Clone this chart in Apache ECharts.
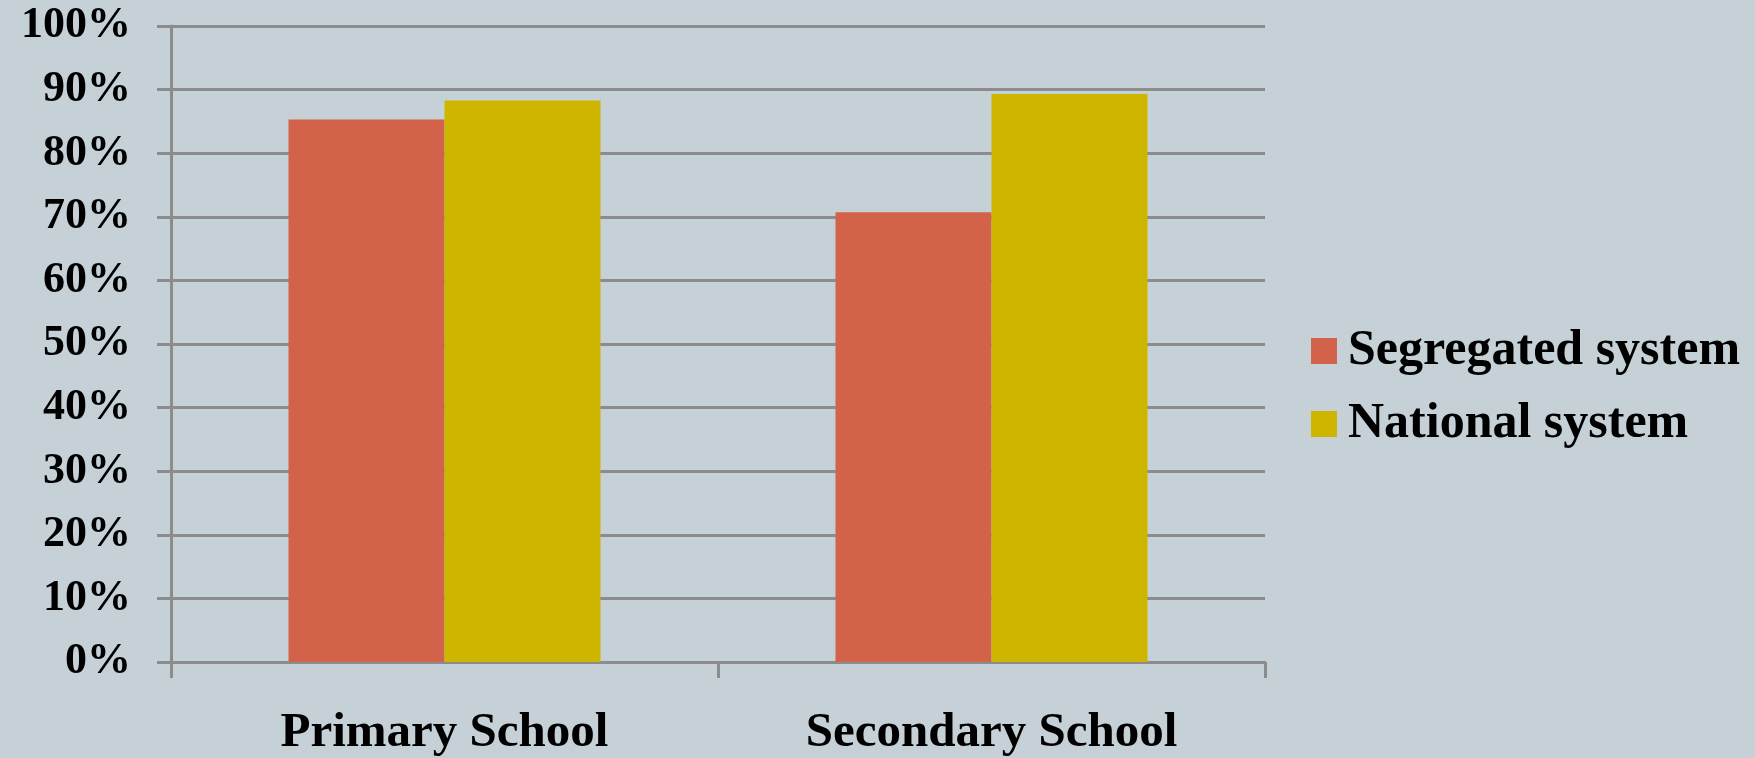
<!DOCTYPE html>
<html>
<head>
<meta charset="utf-8">
<script src="https://cdn.jsdelivr.net/npm/echarts@6/dist/echarts.min.js"></script>
<style>
html,body{margin:0;padding:0;background:#C5D1D7;}
#chart{width:1755px;height:758px;}
</style>
</head>
<body>
<div id="chart"></div>
<script>
const categories = ['Primary School', 'Secondary School'];
const seriesNames = ['Segregated system', 'National system'];
const segregatedValues = [85.3, 70.7];
const nationalValues = [88.3, 89.3];
const yTickMin = 0, yTickMax = 100, yTickStep = 10;

const gridColor = '#8C8C8C';
const font = '"Liberation Serif", "DejaVu Serif", serif';

const chart = echarts.init(document.getElementById('chart'));
chart.setOption({
  backgroundColor: '#C5D1D7',
  animation: false,
  grid: { left: 171, right: 490, top: 26, bottom: 94, containLabel: false },
  legend: {
    orient: 'vertical',
    left: 1311,
    top: 326,
    padding: 0,
    itemWidth: 26,
    itemHeight: 26,
    itemGap: 23,
    icon: 'rect',
    textStyle: { fontFamily: font, fontWeight: 'bold', fontSize: 50, color: '#000', lineHeight: 50, padding: [0,0,0,6] },
    data: seriesNames
  },
  xAxis: {
    type: 'category',
    data: categories,
    axisLine: { show: true, lineStyle: { color: gridColor, width: 3 } },
    axisTick: { show: true, length: 16, lineStyle: { color: gridColor, width: 3 } },
    axisLabel: { fontFamily: font, fontWeight: 'bold', fontSize: 49, color: '#000', margin: 47 }
  },
  yAxis: {
    type: 'value',
    min: yTickMin,
    max: yTickMax,
    interval: yTickStep,
    axisLine: { show: true, lineStyle: { color: gridColor, width: 3 } },
    axisTick: { show: true, inside: false, length: 14, lineStyle: { color: gridColor, width: 3 } },
    splitLine: { show: true, lineStyle: { color: gridColor, width: 3 } },
    axisLabel: { formatter: '{value}%', fontFamily: font, fontWeight: 'bold', fontSize: 44, color: '#000', margin: 40 }
  },
  series: [
    { name: seriesNames[0], type: 'bar', data: segregatedValues, barWidth: 156, barGap: '0%', itemStyle: { color: '#D2624A' } },
    { name: seriesNames[1], type: 'bar', data: nationalValues, barWidth: 156, barGap: '0%', itemStyle: { color: '#CDB500' } }
  ]
});
</script>
</body>
</html>
